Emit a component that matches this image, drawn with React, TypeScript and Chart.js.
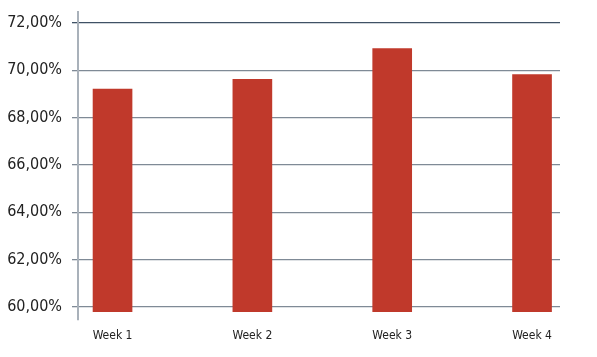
import React, { useEffect, useRef } from "react";
import { Chart, registerables } from "chart.js";

Chart.register(...registerables);

const weeks = ["Week 1", "Week 2", "Week 3", "Week 4"];
const rates = [69.2, 69.62, 70.91, 69.82];
const yTicks = [60, 62, 64, 66, 68, 70, 72];

const FAMILY = "'DejaVu Sans', sans-serif";

export default function App() {
  const ref = useRef<HTMLCanvasElement | null>(null);
  useEffect(() => {
    if (!ref.current) return;
    const chart = new Chart(ref.current, {
      type: "bar",
      data: {
        datasets: [
          {
            data: rates.map((v, i) => ({ x: i, y: v })),
            backgroundColor: "#c0392b",
            borderWidth: 0,
            barThickness: 39,
            base: 59.8,
          } as any,
        ],
      },
      options: {
        animation: false,
        responsive: true,
        maintainAspectRatio: false,
        layout: { padding: { left: 0, right: 29, top: 4, bottom: 0 } },
        plugins: { legend: { display: false }, tooltip: { enabled: false } },
        scales: {
          x: {
            type: "linear",
            offset: false,
            min: -0.247,
            max: 3.2,
            grid: { display: false, drawTicks: false, offset: false },
            border: { display: false },
            afterBuildTicks: (scale: any) => {
              scale.ticks = weeks.map((_, i) => ({ value: i }));
            },
            afterFit: (scale: any) => {
              scale.height = 29;
              scale.paddingLeft = 0;
              scale.paddingRight = 0;
            },
            ticks: {
              padding: 9,
              maxRotation: 0,
              autoSkip: false,
              color: "#222",
              font: { family: FAMILY, size: 12, weight: "normal condensed" as any },
              callback: (v: any) => weeks[Number(v)] ?? "",
            },
          },
          y: {
            type: "linear",
            min: 59.45,
            max: 72.46,
            afterBuildTicks: (scale: any) => {
              scale.ticks = yTicks.map((v) => ({ value: v }));
            },
            afterFit: (scale: any) => {
              scale.width = 70;
              scale.paddingTop = 0;
              scale.paddingBottom = 0;
            },
            grid: {
              color: (ctx: any) => (ctx.tick && ctx.tick.value === 72 ? "#3f5165" : "#7f8a96"),
              lineWidth: 1.3,
              tickLength: 6,
            },
            border: { display: true, color: "#a9b1ba", width: 2 },
            ticks: {
              padding: 10,
              color: "#222",
              font: { family: FAMILY, size: 16, weight: "normal condensed" as any },
              callback: (v: any) => Number(v).toFixed(2).replace(".", ",") + "%",
            },
          },
        },
      },
    });
    return () => chart.destroy();
  }, []);
  return (
    <div style={{ width: "100%", height: "341px", position: "relative" }}>
      <canvas ref={ref} />
    </div>
  );
}
